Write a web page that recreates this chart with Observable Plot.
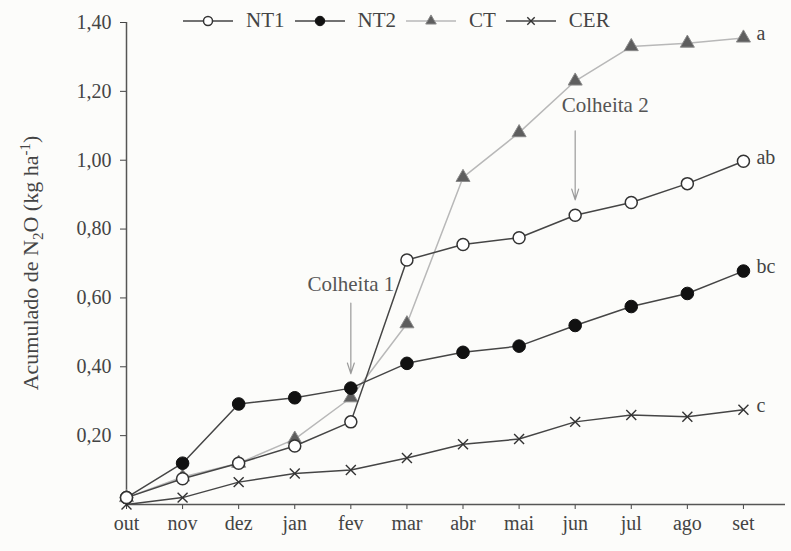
<!DOCTYPE html>
<html>
<head>
<meta charset="utf-8">
<script src="https://cdn.jsdelivr.net/npm/d3@7"></script>
<script src="https://cdn.jsdelivr.net/npm/@observablehq/plot@0.6"></script>
<style>
  body { margin: 0; background: #fcfcfa; }
  #chart { position: relative; width: 791px; height: 551px; }
  #legend { position: absolute; top: 8px; left: 183px; display: flex; align-items: center; }
  #legend .item { display: flex; align-items: center; flex: none; }
  #legend svg { flex: none; display: block; }
  #legend span { margin-left: 13px; margin-right: 10px; font-family: "Liberation Serif", "Times New Roman", serif; font-size: 21px; color: #444; }
</style>
</head>
<body>
<div id="chart"><div id="legend"></div></div>
<script>
const serif = "'Liberation Serif', 'Times New Roman', serif";

// Months of the sampling year (October to September)
const months = ["out", "nov", "dez", "jan", "fev", "mar", "abr", "mai", "jun", "jul", "ago", "set"];

// Cumulative N2O emission, kg ha-1
const nt1 = [0.02, 0.075, 0.12, 0.17, 0.24, 0.71, 0.755, 0.775, 0.84, 0.877, 0.932, 0.997];
const nt2 = [0.02, 0.12, 0.292, 0.31, 0.338, 0.41, 0.442, 0.46, 0.52, 0.575, 0.613, 0.678];
const ct  = [0.02, 0.08, 0.12, 0.19, 0.31, 0.525, 0.95, 1.08, 1.23, 1.33, 1.34, 1.355];
const cer = [0.0, 0.02, 0.065, 0.09, 0.10, 0.135, 0.175, 0.19, 0.24, 0.26, 0.255, 0.275];

// Treatment names and significance letters shown at the end of each curve
const names   = ["NT1", "NT2", "CT", "CER"];
const letters = ["ab", "bc", "a", "c"];

// Harvest annotations: month, label, arrow start and arrow tip (kg ha-1)
const harvestMonths = ["fev", "jun"];
const harvestLabels = ["Colheita 1", "Colheita 2"];
const harvestTop    = [0.585, 1.085];
const harvestTip    = [0.38, 0.885];
const harvestText   = [0.64, 1.16];

const yTicks = [0.2, 0.4, 0.6, 0.8, 1.0, 1.2, 1.4];

const values = [nt1, nt2, ct, cer];
const styles = {
  NT1: {line: "#454545", symbol: "circle", fill: "#fff", stroke: "#333", r: 6, sw: 1.5},
  NT2: {line: "#454545", symbol: "circle", fill: "#111", stroke: "#111", r: 6.3, sw: 1},
  CT:  {line: "#b8b8b8", symbol: "triangle", fill: "#5e5e5e", stroke: "#8a8a8a", r: 5.2, sw: 1},
  CER: {line: "#454545", symbol: "times", fill: "none", stroke: "#333", r: 4.6, sw: 1.4}
};

const rows = names.flatMap((name, s) => values[s].map((v, i) => ({name, i, v})));
const ends = names.map((name, s) => ({name, i: months.length - 1, v: values[s][months.length - 1], letter: letters[s]}));
const harvests = harvestMonths.map((m, k) => ({
  i: months.indexOf(m), label: harvestLabels[k], top: harvestTop[k], tip: harvestTip[k], ty: harvestText[k]
}));

const fmt = v => d3.format(".2f")(v).replace(".", ",");

// CT first so the darker series sit on top of its light line
const order = ["CT", "CER", "NT2", "NT1"];
const seriesMarks = order.flatMap(name => {
  const st = styles[name];
  const data = rows.filter(d => d.name === name);
  return [
    Plot.line(data, {x: "i", y: "v", stroke: st.line, strokeWidth: 1.5}),
    Plot.dot(data, {x: "i", y: "v", symbol: st.symbol, r: st.r, fill: st.fill, stroke: st.stroke, strokeWidth: st.sw})
  ];
});

const plot = Plot.plot({
  width: 791,
  height: 551,
  marginLeft: 126,
  marginRight: 6,
  marginTop: 22,
  marginBottom: 47,
  style: {fontFamily: serif, fontSize: "20px", color: "#444", background: "transparent"},
  x: {domain: [0, 11.75]},
  y: {domain: [0, 1.4]},
  marks: [
    Plot.axisX({ticks: d3.range(months.length), tickFormat: i => months[i], tickSize: 5, tickPadding: 6, label: null, fontSize: 20}),
    Plot.axisY({ticks: yTicks, tickFormat: fmt, tickSize: 6, tickPadding: 9, label: null, fontSize: 20}),
    Plot.ruleY([0], {stroke: "#555", strokeWidth: 1.5}),
    Plot.ruleX([0], {stroke: "#555", strokeWidth: 1.5}),
    Plot.arrow(harvests, {x1: "i", x2: "i", y1: "top", y2: "tip", stroke: "#9a9a9a", strokeWidth: 1.2, headLength: 14, headAngle: 36}),
    Plot.text(harvests, {x: "i", y: "ty", text: "label", fill: "#555", fontSize: 21}),
    ...seriesMarks,
    Plot.text(ends, {x: "i", y: "v", text: "letter", textAnchor: "start", dx: 13, dy: -4, fill: "#444", fontSize: 20})
  ]
});

// Shift the second harvest label to the right of its arrow
d3.select(plot).selectAll("text").filter(function() { return this.textContent === "Colheita 2"; })
  .attr("dx", 30);

// Y axis title with subscript and superscript
const yScale = plot.scale("y");
const cy = (yScale.range[0] + yScale.range[1]) / 2;
const title = d3.select(plot).append("text")
  .attr("transform", `translate(38,${cy}) rotate(-90)`)
  .attr("text-anchor", "middle")
  .attr("fill", "#444")
  .style("font-family", serif)
  .style("font-size", "22px");
title.append("tspan").text("Acumulado de N");
title.append("tspan").attr("dy", 5).style("font-size", "15px").text("2");
title.append("tspan").attr("dy", -5).text("O (kg ha");
title.append("tspan").attr("dy", -8).style("font-size", "15px").text("-1");
title.append("tspan").attr("dy", 8).text(")");

document.getElementById("chart").appendChild(plot);
plot.style.position = "absolute";
plot.style.left = "0";
plot.style.top = "0";

// Legend built from the series styles
const legend = d3.select("#legend");
names.forEach(name => {
  const st = styles[name];
  const item = legend.append("div").attr("class", "item");
  const svg = item.append("svg").attr("width", 50).attr("height", 16);
  svg.append("line").attr("x1", 0).attr("x2", 50).attr("y1", 8).attr("y2", 8)
    .attr("stroke", st.line).attr("stroke-width", 1.5);
  const sym = {circle: d3.symbolCircle, triangle: d3.symbolTriangle, times: d3.symbolTimes}[st.symbol];
  const rr = st.r * 0.75;
  svg.append("path").attr("transform", "translate(25,8)")
    .attr("d", d3.symbol(sym, Math.PI * rr * rr)())
    .attr("fill", st.fill).attr("stroke", st.stroke).attr("stroke-width", st.sw);
  item.append("span").text(name);
});
document.getElementById("chart").appendChild(document.getElementById("legend"));
</script>
</body>
</html>
